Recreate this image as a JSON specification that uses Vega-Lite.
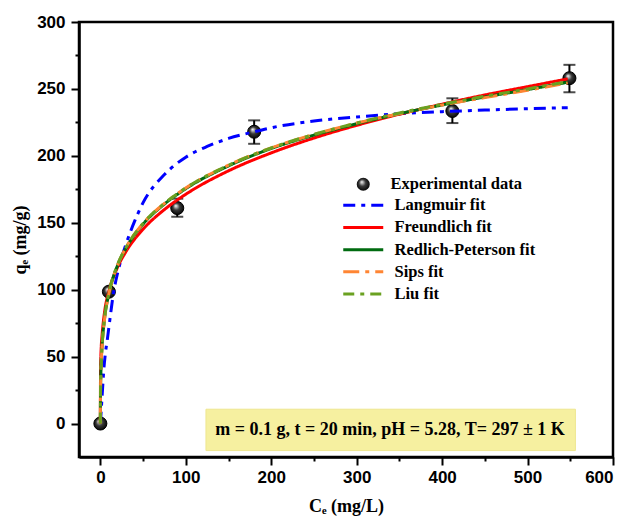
{
  "$schema": "https://vega.github.io/schema/vega-lite/v6.json",
  "width": 534,
  "height": 435,
  "autosize": {"type": "none"},
  "padding": {"left": 79, "top": 22, "right": 17, "bottom": 60},
  "background": "#ffffff",
  "datasets": {
    "points": [
      {"series": "Experimental data", "C": 0, "q": 0, "lo": 0, "hi": 0},
      {"series": "Experimental data", "C": 10, "q": 98.5, "lo": 98.5, "hi": 98.5},
      {"series": "Experimental data", "C": 90, "q": 161, "lo": 154.5, "hi": 168},
      {"series": "Experimental data", "C": 180, "q": 218, "lo": 209, "hi": 226.5},
      {"series": "Experimental data", "C": 412, "q": 233.5, "lo": 224.5, "hi": 243},
      {"series": "Experimental data", "C": 549, "q": 258, "lo": 247.5, "hi": 268}
    ],
    "fits": [
      {"model": "Langmuir fit", "C": 0, "q": 0},
      {"model": "Langmuir fit", "C": 2, "q": 20},
      {"model": "Langmuir fit", "C": 4, "q": 40},
      {"model": "Langmuir fit", "C": 6, "q": 53},
      {"model": "Langmuir fit", "C": 8, "q": 62},
      {"model": "Langmuir fit", "C": 10, "q": 72},
      {"model": "Langmuir fit", "C": 12, "q": 82},
      {"model": "Langmuir fit", "C": 15, "q": 96},
      {"model": "Langmuir fit", "C": 20, "q": 112},
      {"model": "Langmuir fit", "C": 25, "q": 124},
      {"model": "Langmuir fit", "C": 30, "q": 134},
      {"model": "Langmuir fit", "C": 40, "q": 151},
      {"model": "Langmuir fit", "C": 50, "q": 165},
      {"model": "Langmuir fit", "C": 75, "q": 186},
      {"model": "Langmuir fit", "C": 100, "q": 199},
      {"model": "Langmuir fit", "C": 125, "q": 207},
      {"model": "Langmuir fit", "C": 150, "q": 213},
      {"model": "Langmuir fit", "C": 180, "q": 218},
      {"model": "Langmuir fit", "C": 200, "q": 221},
      {"model": "Langmuir fit", "C": 250, "q": 226},
      {"model": "Langmuir fit", "C": 300, "q": 229},
      {"model": "Langmuir fit", "C": 350, "q": 231.5},
      {"model": "Langmuir fit", "C": 400, "q": 233},
      {"model": "Langmuir fit", "C": 450, "q": 234.2},
      {"model": "Langmuir fit", "C": 500, "q": 235.2},
      {"model": "Langmuir fit", "C": 547, "q": 236},
      {"model": "Freundlich fit", "C": 0, "q": 0},
      {"model": "Freundlich fit", "C": 0.2, "q": 38.8},
      {"model": "Freundlich fit", "C": 0.5, "q": 48.3},
      {"model": "Freundlich fit", "C": 1, "q": 57},
      {"model": "Freundlich fit", "C": 2, "q": 66},
      {"model": "Freundlich fit", "C": 5, "q": 83.7},
      {"model": "Freundlich fit", "C": 10, "q": 98.8},
      {"model": "Freundlich fit", "C": 20, "q": 116.6},
      {"model": "Freundlich fit", "C": 30, "q": 128.5},
      {"model": "Freundlich fit", "C": 50, "q": 145.2},
      {"model": "Freundlich fit", "C": 75, "q": 159.9},
      {"model": "Freundlich fit", "C": 100, "q": 171.3},
      {"model": "Freundlich fit", "C": 150, "q": 188.8},
      {"model": "Freundlich fit", "C": 200, "q": 202.2},
      {"model": "Freundlich fit", "C": 250, "q": 213.3},
      {"model": "Freundlich fit", "C": 300, "q": 222.8},
      {"model": "Freundlich fit", "C": 350, "q": 231.1},
      {"model": "Freundlich fit", "C": 400, "q": 238.6},
      {"model": "Freundlich fit", "C": 450, "q": 245.5},
      {"model": "Freundlich fit", "C": 500, "q": 251.7},
      {"model": "Freundlich fit", "C": 547, "q": 257.5},
      {"model": "Redlich-Peterson fit", "C": 0, "q": 0},
      {"model": "Redlich-Peterson fit", "C": 0.2, "q": 25},
      {"model": "Redlich-Peterson fit", "C": 0.5, "q": 35},
      {"model": "Redlich-Peterson fit", "C": 1, "q": 46},
      {"model": "Redlich-Peterson fit", "C": 2, "q": 58},
      {"model": "Redlich-Peterson fit", "C": 5, "q": 79},
      {"model": "Redlich-Peterson fit", "C": 10, "q": 97},
      {"model": "Redlich-Peterson fit", "C": 20, "q": 118},
      {"model": "Redlich-Peterson fit", "C": 30, "q": 131},
      {"model": "Redlich-Peterson fit", "C": 50, "q": 149},
      {"model": "Redlich-Peterson fit", "C": 75, "q": 164},
      {"model": "Redlich-Peterson fit", "C": 100, "q": 175.5},
      {"model": "Redlich-Peterson fit", "C": 150, "q": 192.5},
      {"model": "Redlich-Peterson fit", "C": 200, "q": 205.5},
      {"model": "Redlich-Peterson fit", "C": 250, "q": 215.5},
      {"model": "Redlich-Peterson fit", "C": 300, "q": 224},
      {"model": "Redlich-Peterson fit", "C": 350, "q": 231.5},
      {"model": "Redlich-Peterson fit", "C": 400, "q": 238},
      {"model": "Redlich-Peterson fit", "C": 450, "q": 244},
      {"model": "Redlich-Peterson fit", "C": 500, "q": 249.5},
      {"model": "Redlich-Peterson fit", "C": 547, "q": 255},
      {"model": "Sips fit", "C": 0, "q": 0},
      {"model": "Sips fit", "C": 0.2, "q": 24},
      {"model": "Sips fit", "C": 0.5, "q": 34},
      {"model": "Sips fit", "C": 1, "q": 45},
      {"model": "Sips fit", "C": 2, "q": 57.5},
      {"model": "Sips fit", "C": 5, "q": 78.5},
      {"model": "Sips fit", "C": 10, "q": 97},
      {"model": "Sips fit", "C": 20, "q": 118},
      {"model": "Sips fit", "C": 30, "q": 131.5},
      {"model": "Sips fit", "C": 50, "q": 149.5},
      {"model": "Sips fit", "C": 75, "q": 164.5},
      {"model": "Sips fit", "C": 100, "q": 176},
      {"model": "Sips fit", "C": 150, "q": 193},
      {"model": "Sips fit", "C": 200, "q": 206},
      {"model": "Sips fit", "C": 250, "q": 216},
      {"model": "Sips fit", "C": 300, "q": 224.5},
      {"model": "Sips fit", "C": 350, "q": 231.5},
      {"model": "Sips fit", "C": 400, "q": 238},
      {"model": "Sips fit", "C": 450, "q": 243.5},
      {"model": "Sips fit", "C": 500, "q": 249},
      {"model": "Sips fit", "C": 547, "q": 254.5},
      {"model": "Liu fit", "C": 0, "q": 0},
      {"model": "Liu fit", "C": 0.2, "q": 25},
      {"model": "Liu fit", "C": 0.5, "q": 35},
      {"model": "Liu fit", "C": 1, "q": 46},
      {"model": "Liu fit", "C": 2, "q": 58},
      {"model": "Liu fit", "C": 5, "q": 79},
      {"model": "Liu fit", "C": 10, "q": 97.5},
      {"model": "Liu fit", "C": 20, "q": 118.5},
      {"model": "Liu fit", "C": 30, "q": 131.5},
      {"model": "Liu fit", "C": 50, "q": 149.5},
      {"model": "Liu fit", "C": 75, "q": 164.5},
      {"model": "Liu fit", "C": 100, "q": 176},
      {"model": "Liu fit", "C": 150, "q": 193},
      {"model": "Liu fit", "C": 200, "q": 206},
      {"model": "Liu fit", "C": 250, "q": 216},
      {"model": "Liu fit", "C": 300, "q": 224.5},
      {"model": "Liu fit", "C": 350, "q": 232},
      {"model": "Liu fit", "C": 400, "q": 238.5},
      {"model": "Liu fit", "C": 450, "q": 244.5},
      {"model": "Liu fit", "C": 500, "q": 250},
      {"model": "Liu fit", "C": 547, "q": 255.5}
    ],
    "note": [
      {"x1": 123.6, "x2": 556, "y1": 10.7, "y2": -20.2, "tx": 339, "ty": -5.2,
       "label": "m = 0.1 g, t = 20 min, pH = 5.28, T= 297 ± 1 K"}
    ]
  },
  "encoding": {
    "x": {
      "type": "quantitative",
      "scale": {"domain": [-25, 600], "nice": false, "zero": false},
      "axis": {
        "title": "Cₑ (mg/L)",
        "values": [0, 50, 100, 150, 200, 250, 300, 350, 400, 450, 500, 550, 600],
        "labelExpr": "datum.value % 100 === 0 ? datum.label : ''",
        "tickSize": {"condition": {"test": "datum.value % 100 === 0", "value": 8}, "value": 4},
        "labelPadding": 4,
        "titlePadding": 12
      }
    },
    "y": {
      "type": "quantitative",
      "scale": {"domain": [-25, 300], "nice": false, "zero": false},
      "axis": {
        "title": "qₑ (mg/g)",
        "values": [0, 25, 50, 75, 100, 125, 150, 175, 200, 225, 250, 275, 300],
        "labelExpr": "datum.value % 50 === 0 ? datum.label : ''",
        "tickSize": {"condition": {"test": "datum.value % 50 === 0", "value": 8}, "value": 4},
        "labelPadding": 6,
        "titlePadding": 7
      }
    }
  },
  "layer": [
    {
      "data": {"name": "note"},
      "mark": {"type": "rect", "fill": "#f6f0a0", "stroke": "#eee690", "strokeWidth": 1},
      "encoding": {
        "x": {"field": "x1", "type": "quantitative"},
        "x2": {"field": "x2"},
        "y": {"field": "y1", "type": "quantitative"},
        "y2": {"field": "y2"}
      }
    },
    {
      "data": {"name": "note"},
      "mark": {"type": "text", "font": "Liberation Serif", "fontWeight": "bold", "fontSize": 18, "color": "#000", "align": "center", "baseline": "middle"},
      "encoding": {
        "x": {"field": "tx", "type": "quantitative"},
        "y": {"field": "ty", "type": "quantitative"},
        "text": {"field": "label"}
      }
    },
    {
      "data": {"name": "points"},
      "mark": {"type": "errorbar", "color": "#000", "thickness": 2, "ticks": {"size": 12, "thickness": 2, "color": "#000"}},
      "encoding": {
        "x": {"field": "C", "type": "quantitative"},
        "y": {"field": "lo", "type": "quantitative"},
        "y2": {"field": "hi"}
      }
    },
    {
      "data": {"name": "points"},
      "mark": {
        "type": "point",
        "filled": true,
        "size": 170,
        "opacity": 1,
        "fill": {
          "gradient": "radial",
          "x1": 0.38, "y1": 0.32, "r1": 0.02,
          "x2": 0.5, "y2": 0.5, "r2": 0.55,
          "stops": [
            {"offset": 0, "color": "#f4f4f4"},
            {"offset": 0.45, "color": "#3a3a3a"},
            {"offset": 1, "color": "#000000"}
          ]
        },
        "stroke": "#000",
        "strokeWidth": 1
      },
      "encoding": {
        "x": {"field": "C", "type": "quantitative"},
        "y": {"field": "q", "type": "quantitative"},
        "shape": {
          "field": "series",
          "type": "nominal",
          "scale": {"range": ["circle"]},
          "legend": {
            "orient": "none",
            "legendX": 276,
            "legendY": 154,
            "title": null,
            "padding": 0,
            "symbolSize": 170,
            "symbolFillColor": "#111",
            "symbolStrokeColor": "#000",
            "labelOffset": 19,
            "labelFont": "Liberation Serif",
            "labelFontWeight": "bold",
            "labelFontSize": 16.5,
            "labelColor": "#000"
          }
        }
      }
    },
    {
      "data": {"name": "fits"},
      "mark": {"type": "line", "strokeWidth": 3, "interpolate": "monotone"},
      "encoding": {
        "x": {"field": "C", "type": "quantitative"},
        "y": {"field": "q", "type": "quantitative"},
        "color": {
          "field": "model",
          "type": "nominal",
          "sort": null,
          "scale": {
            "domain": ["Langmuir fit", "Freundlich fit", "Redlich-Peterson fit", "Sips fit", "Liu fit"],
            "range": ["#0000ff", "#ff0000", "#006b10", "#ff8533", "#6aa121"]
          },
          "legend": {
            "orient": "none",
            "legendX": 276,
            "legendY": 175,
            "title": null,
            "padding": 0,
            "symbolType": "M-4,0H4",
            "symbolSize": 100,
            "symbolStrokeWidth": 3,
            "rowPadding": 5.2,
            "labelOffset": 23,
            "labelFont": "Liberation Serif",
            "labelFontWeight": "bold",
            "labelFontSize": 16.5,
            "labelColor": "#000"
          }
        },
        "strokeDash": {
          "field": "model",
          "type": "nominal",
          "sort": null,
          "scale": {
            "domain": ["Langmuir fit", "Freundlich fit", "Redlich-Peterson fit", "Sips fit", "Liu fit"],
            "range": [[12, 6, 4, 6], [1, 0], [1, 0], [16, 6, 4, 6], [11, 6, 4, 6]]
          }
        }
      }
    }
  ],
  "config": {
    "view": {"stroke": "#000", "strokeWidth": 2.5},
    "axis": {
      "grid": false,
      "domainColor": "#000",
      "domainWidth": 2.5,
      "tickColor": "#000",
      "tickWidth": 2,
      "labelFont": "Liberation Sans",
      "labelFontWeight": "bold",
      "labelFontSize": 17,
      "labelColor": "#000",
      "titleFont": "Liberation Serif",
      "titleFontWeight": "bold",
      "titleFontSize": 18,
      "titleColor": "#000"
    }
  }
}
